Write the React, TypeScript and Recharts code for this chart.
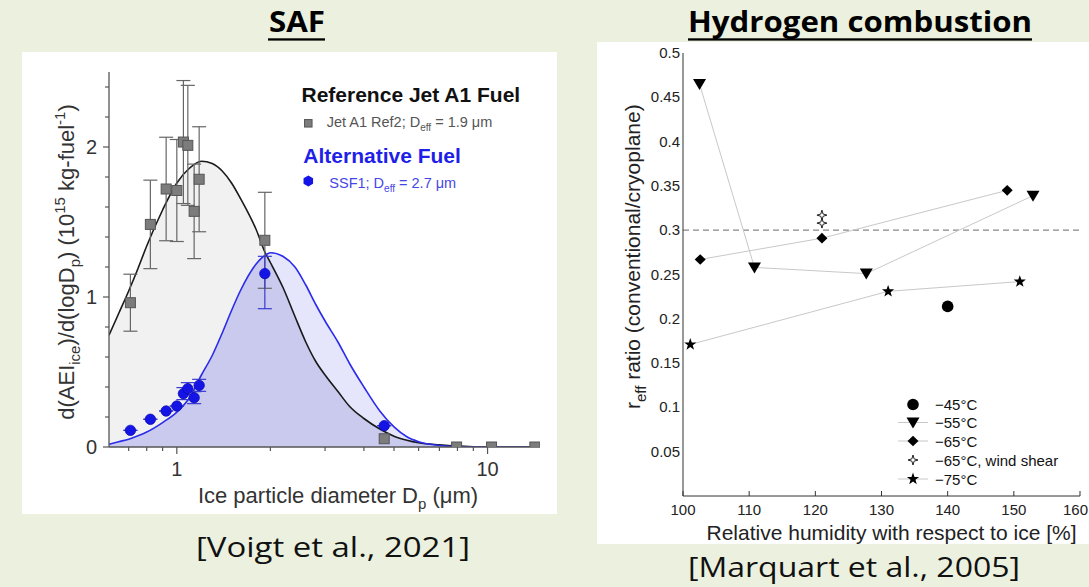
import React from 'react';
import {
  ComposedChart, ScatterChart, Scatter, Area, Line, XAxis, YAxis,
  ErrorBar, ReferenceLine, Label,
} from 'recharts';

// ---------- SAF panel (Voigt et al.) ----------
// fitted size distributions
const fitX = [0.605, 0.65, 0.7, 0.75, 0.8, 0.9, 1.0, 1.1, 1.2, 1.3, 1.4, 1.5, 1.6, 1.8, 1.93, 2.0, 2.2, 2.4, 2.6, 2.8, 3.0, 3.3, 3.6, 4.0, 4.5, 5.0, 5.5, 6.0, 7.0, 8.0, 9.0, 10, 12, 14.75];
const jetFit = [0.745, 0.89, 1.04, 1.19, 1.34, 1.58, 1.76, 1.86, 1.905, 1.89, 1.84, 1.76, 1.66, 1.45, 1.29, 1.23, 1.06, 0.87, 0.7, 0.57, 0.48, 0.37, 0.27, 0.19, 0.12, 0.072, 0.045, 0.028, 0.014, 0.006, 0.002, 0, 0, 0];
const ssfFit = [0.018, 0.035, 0.052, 0.075, 0.1, 0.163, 0.233, 0.33, 0.48, 0.61, 0.76, 0.91, 1.04, 1.22, 1.28, 1.295, 1.27, 1.2, 1.08, 0.95, 0.84, 0.7, 0.555, 0.4, 0.24, 0.134, 0.068, 0.035, 0.01, 0.003, 0.001, 0, 0, 0];

// measured points
const jetX = [0.709, 0.822, 0.924, 1.0, 1.05, 1.085, 1.137, 1.18, 1.92, 4.65, 7.95, 10.3, 14.2];
const jetVal = [0.962, 1.484, 1.72, 1.71, 2.033, 2.011, 1.571, 1.785, 1.378, 0.055, 0, 0, 0];
const jetErr = [0.19, 0.295, 0.345, 0.34, 0.41, 0.4, 0.315, 0.35, 0.32, 0, 0, 0, 0];
const ssfX = [0.709, 0.822, 0.924, 1.0, 1.05, 1.085, 1.137, 1.18, 1.92, 4.65];
const ssfVal = [0.111, 0.185, 0.24, 0.273, 0.356, 0.389, 0.329, 0.411, 1.156, 0.142];
const ssfErrLow = [0, 0, 0, 0, 0.04, 0.04, 0.04, 0.04, 0.234, 0];
const ssfErrHigh = [0, 0, 0, 0, 0.04, 0.04, 0.04, 0.04, 0.115, 0];

const safXTicks = [0.7, 0.8, 0.9, 1, 2, 3, 4, 5, 6, 7, 8, 9, 10];
const safYTicks = [0, 0.2, 0.4, 0.6, 0.8, 1, 1.2, 1.4, 1.6, 1.8, 2, 2.2, 2.4];

// ---------- Hydrogen panel (Marquart et al.) ----------
const rhi45 = [140.0];
const reff45 = [0.214];
const rhi55 = [102.5, 110.8, 127.7, 152.9];
const reff55 = [0.465, 0.258, 0.251, 0.339];
const rhi65 = [102.6, 121.0, 149.0];
const reff65 = [0.267, 0.291, 0.345];
const rhiShear = [121.0, 121.0];
const reffShear = [0.317, 0.308];
const rhi75 = [101.1, 131.0, 150.9];
const reff75 = [0.171, 0.231, 0.242];

const rhTicks = [100, 110, 120, 130, 140, 150, 160];
const reffTicks = [0, 0.05, 0.1, 0.15, 0.2, 0.25, 0.3, 0.35, 0.4, 0.45, 0.5];

const fitRows = fitX.map((x, i) => ({ x, jet: jetFit[i], ssf: ssfFit[i], both: Math.min(jetFit[i], ssfFit[i]) }));
const jetRows = jetX.map((x, i) => ({ x, y: jetVal[i], err: jetErr[i] }));
const ssfRows = ssfX.map((x, i) => ({ x, y: ssfVal[i], err: [ssfErrLow[i], ssfErrHigh[i]] }));
const pts = (xs: number[], ys: number[]) => xs.map((x, i) => ({ x, y: ys[i] }));

const ARIAL = '"Liberation Sans", Arial, Helvetica, sans-serif';
const CAL = '"Open Sans", "Noto Sans", sans-serif';
const SAF_AX = '#555';
const H_AX = '#333';

// ---------- markers ----------
const GraySq = ({ cx, cy, s = 10 }: any) => (
  <rect x={cx - s / 2} y={cy - s / 2} width={s} height={s} fill="#7c7c7c" stroke="#555" strokeWidth={1} />
);
const BlueDot = ({ cx, cy }: any) => <circle cx={cx} cy={cy} r={5.2} fill="#1414e6" stroke="#0b0bb0" strokeWidth={0.8} />;
const BlueHex = ({ cx, cy, r = 5.5 }: any) => {
  const p = [0, 1, 2, 3, 4, 5].map((k) => {
    const a = (Math.PI / 3) * k + Math.PI / 6;
    return `${cx + r * Math.cos(a)},${cy + r * Math.sin(a)}`;
  });
  return <polygon points={p.join(' ')} fill="#1414e6" />;
};

const Disc = ({ cx, cy }: any) => <circle cx={cx} cy={cy} r={5.8} fill="#000" />;
const TriDown = ({ cx, cy }: any) => (
  <polygon points={`${cx - 6.5},${cy - 5} ${cx + 6.5},${cy - 5} ${cx},${cy + 6}`} fill="#000" />
);
const Diamond = ({ cx, cy }: any) => (
  <polygon points={`${cx},${cy - 5.3} ${cx + 5.5},${cy} ${cx},${cy + 5.3} ${cx - 5.5},${cy}`} fill="#000" />
);
const starPts = (cx: number, cy: number, n: number, ro: number, ri: number) => {
  const out: string[] = [];
  for (let k = 0; k < n * 2; k++) {
    const r = k % 2 === 0 ? ro : ri;
    const a = -Math.PI / 2 + (Math.PI / n) * k;
    out.push(`${cx + r * Math.cos(a)},${cy + r * Math.sin(a)}`);
  }
  return out.join(' ');
};
const Sparkle = ({ cx, cy }: any) => (
  <polygon points={starPts(cx, cy, 4, 5, 1.6)} fill="#fff" stroke="#222" strokeWidth={1} />
);
const Star = ({ cx, cy }: any) => <polygon points={starPts(cx, cy, 5, 6.4, 2.6)} fill="#000" />;

// ---------- ticks (tickSize/tickMargin 0 -> x,y sit on the axis line) ----------
const SafXTick = ({ x, y, payload }: any) => {
  const v = payload.value;
  const major = v === 1 || v === 10;
  return (
    <g>
      <line x1={x} x2={x} y1={y} y2={y + (major ? 7 : 4)} stroke={SAF_AX} strokeWidth={1.2} />
      {major && (
        <text x={x} y={y + 29} textAnchor="middle" fontSize={20} fill="#333" fontFamily={ARIAL}>{v}</text>
      )}
    </g>
  );
};
const SafXTopTick = ({ x, y, payload }: any) => {
  const major = payload.value === 1 || payload.value === 10;
  return <line x1={x} x2={x} y1={y} y2={y - (major ? 7 : 4)} stroke={SAF_AX} strokeWidth={1.2} />;
};
const SafYTick = ({ x, y, payload }: any) => {
  const v = payload.value;
  const major = Number.isInteger(v);
  return (
    <g>
      <line x1={x - (major ? 6 : 4)} x2={x} y1={y} y2={y} stroke={SAF_AX} strokeWidth={1.2} />
      {major && (
        <text x={x - 12} y={y + 7} textAnchor="end" fontSize={20} fill="#333" fontFamily={ARIAL}>{v}</text>
      )}
    </g>
  );
};
const SafYRightTick = ({ x, y, payload }: any) => {
  const major = Number.isInteger(payload.value);
  return <line x1={x - (major ? 6 : 4)} x2={x} y1={y} y2={y} stroke={SAF_AX} strokeWidth={1.2} />;
};

const RhXTick = ({ x, y, payload }: any) => {
  const last = payload.value === rhTicks[rhTicks.length - 1];
  return (
    <g>
      <line x1={x} x2={x} y1={y} y2={y - 5} stroke={H_AX} />
      {/* the last label sits on the picture's right edge: keep it inside */}
      <text x={last ? x + 8 : x} y={y + 19} textAnchor={last ? 'end' : 'middle'} fontSize={15} fill="#222" fontFamily={ARIAL}>
        {payload.value}
      </text>
    </g>
  );
};
const RhXTopTick = ({ x, y }: any) => <line x1={x} x2={x} y1={y} y2={y + 5} stroke={H_AX} />;
const RhYTick = ({ x, y, payload }: any) =>
  payload.value === 0 ? <g /> : (
    <text x={x - 3} y={y + 5} textAnchor="end" fontSize={15} fill="#222" fontFamily={ARIAL}>{payload.value}</text>
  );
const RhYRightTick = ({ x, y }: any) => <line x1={x - 5} x2={x} y1={y} y2={y} stroke={H_AX} />;

function SafChart() {
  return (
    <ComposedChart width={535} height={462} data={fitRows} margin={{ top: 20, right: 17, bottom: 0, left: 0 }}>
      <XAxis dataKey="x" type="number" scale="log" domain={[0.605, 14.75]} allowDataOverflow ticks={safXTicks}
        interval={0} height={67} tickSize={0} tickMargin={0} tickLine={false}
        axisLine={{ stroke: SAF_AX, strokeWidth: 1.3 }} tick={<SafXTick />}>
        <Label content={() => (
          <text x={316} y={451} textAnchor="middle" fontSize={22} fill="#333" fontFamily={ARIAL}>
            Ice particle diameter D<tspan dy={6} fontSize={15}>p</tspan><tspan dy={-6}> (μm)</tspan>
          </text>
        )} />
      </XAxis>
      <XAxis xAxisId="top" orientation="top" type="number" scale="log" domain={[0.605, 14.75]} allowDataOverflow
        ticks={safXTicks} interval={0} height={0} tickSize={0} tickMargin={0} tickLine={false}
        axisLine={{ stroke: SAF_AX, strokeWidth: 1.3 }} tick={<SafXTopTick />} />
      <YAxis type="number" domain={[0, 2.5]} allowDataOverflow ticks={safYTicks} interval={0} width={87}
        tickSize={0} tickMargin={0} tickLine={false} axisLine={{ stroke: SAF_AX, strokeWidth: 1.3 }} tick={<SafYTick />}>
        <Label content={() => (
          <text x={52} y={210} transform="rotate(-90 52 210)" textAnchor="middle" fontSize={22} fill="#333" fontFamily={ARIAL}>
            d(AEI<tspan dy={6} fontSize={15}>ice</tspan><tspan dy={-6}>)/d(logD</tspan><tspan dy={6} fontSize={15}>p</tspan>
            <tspan dy={-6}>) (10</tspan><tspan dy={-9} fontSize={15}>15</tspan><tspan dy={9}> kg-fuel</tspan>
            <tspan dy={-9} fontSize={15}>-1</tspan><tspan dy={9}>)</tspan>
          </text>
        )} />
      </YAxis>
      <YAxis yAxisId="right" orientation="right" type="number" domain={[0, 2.5]} allowDataOverflow ticks={safYTicks}
        interval={0} width={0} tickSize={0} tickMargin={0} tickLine={false}
        axisLine={{ stroke: SAF_AX, strokeWidth: 1.3 }} tick={<SafYRightTick />} />

      <Area dataKey="jet" type="monotone" stroke="none" fill="#f1f1f1" fillOpacity={1} isAnimationActive={false} />
      <Area dataKey="ssf" type="monotone" stroke="none" fill="#e5e6fb" fillOpacity={1} isAnimationActive={false} />
      <Area dataKey="both" type="monotone" stroke="none" fill="#c9caee" fillOpacity={1} isAnimationActive={false} />
      <Line dataKey="jet" type="monotone" stroke="#1a1a1a" strokeWidth={1.6} dot={false} isAnimationActive={false} />
      <Line dataKey="ssf" type="monotone" stroke="#2b2bea" strokeWidth={1.6} dot={false} isAnimationActive={false} />

      <Scatter data={jetRows} dataKey="y" isAnimationActive={false} shape={(p: any) => <GraySq cx={p.cx} cy={p.cy} />}>
        <ErrorBar dataKey="err" direction="y" width={7} stroke="#666" strokeWidth={1.2} />
      </Scatter>
      <Scatter data={ssfRows} dataKey="y" isAnimationActive={false} shape={(p: any) => <BlueDot cx={p.cx} cy={p.cy} />}>
        <ErrorBar dataKey="err" direction="y" width={7} stroke="#3a3ad0" strokeWidth={1.2} />
      </Scatter>
    </ComposedChart>
  );
}

function H2Chart() {
  const line = { stroke: '#c8c8c8', strokeWidth: 1 };
  return (
    <ScatterChart width={492} height={502} margin={{ top: 11, right: 9, bottom: 0, left: 0 }}>
      <XAxis dataKey="x" type="number" domain={[100, 160]} allowDataOverflow ticks={rhTicks} interval={0} height={48}
        tickSize={0} tickMargin={0} tickLine={false} axisLine={{ stroke: H_AX }} tick={<RhXTick />}>
        <Label content={() => (
          <text x={294.5} y={498} textAnchor="middle" fontSize={21} fill="#222" fontFamily={ARIAL}>
            Relative humidity with respect to ice [%]
          </text>
        )} />
      </XAxis>
      <XAxis xAxisId="top" orientation="top" type="number" domain={[100, 160]} allowDataOverflow ticks={rhTicks}
        interval={0} height={0} tickSize={0} tickMargin={0} tickLine={false} axisLine={{ stroke: H_AX }} tick={<RhXTopTick />} />
      <YAxis dataKey="y" type="number" domain={[0, 0.5]} allowDataOverflow ticks={reffTicks} interval={0} width={86}
        tickSize={0} tickMargin={0} tickLine={false} axisLine={{ stroke: H_AX }} tick={<RhYTick />}>
        <Label content={() => (
          <text x={43} y={214.7} transform="rotate(-90 43 214.7)" textAnchor="middle" fontSize={21} fill="#222" fontFamily={ARIAL}>
            r<tspan dy={6} fontSize={15}>eff</tspan><tspan dy={-6}> ratio (conventional/cryoplane)</tspan>
          </text>
        )} />
      </YAxis>
      <YAxis yAxisId="right" orientation="right" type="number" domain={[0, 0.5]} allowDataOverflow ticks={reffTicks}
        interval={0} width={0} tickSize={0} tickMargin={0} tickLine={false} axisLine={{ stroke: H_AX }} tick={<RhYRightTick />} />

      <ReferenceLine y={0.3} stroke="#888" strokeWidth={1.2} strokeDasharray="6 4" />

      <Scatter data={pts(rhi55, reff55)} line={line} lineType="joint" isAnimationActive={false}
        shape={(p: any) => <TriDown cx={p.cx} cy={p.cy} />} />
      <Scatter data={pts(rhi65, reff65)} line={line} lineType="joint" isAnimationActive={false}
        shape={(p: any) => <Diamond cx={p.cx} cy={p.cy} />} />
      <Scatter data={pts(rhi75, reff75)} line={line} lineType="joint" isAnimationActive={false}
        shape={(p: any) => <Star cx={p.cx} cy={p.cy} />} />
      <Scatter data={pts(rhiShear, reffShear)} isAnimationActive={false}
        shape={(p: any) => <Sparkle cx={p.cx} cy={p.cy} />} />
      <Scatter data={pts(rhi45, reff45)} isAnimationActive={false}
        shape={(p: any) => <Disc cx={p.cx} cy={p.cy} />} />
    </ScatterChart>
  );
}

const legendRows = [
  { label: '−45°C', M: Disc, line: false },
  { label: '−55°C', M: TriDown, line: true },
  { label: '−65°C', M: Diamond, line: true },
  { label: '−65°C, wind shear', M: Sparkle, line: false },
  { label: '−75°C', M: Star, line: true },
];
const legendY = [404.5, 422.5, 441, 460, 479];

export default function App() {
  return (
    <div style={{ position: 'fixed', left: 0, top: 0, width: 1089, height: 587, background: '#EBF1DE', overflow: 'hidden' }}>
      <div style={{ position: 'absolute', left: 22, top: 52, width: 535, height: 462, background: '#fff' }}>
        <SafChart />
      </div>
      <div style={{ position: 'absolute', left: 597, top: 42, width: 492, height: 502, background: '#fff' }}>
        <H2Chart />
      </div>

      <svg width={1089} height={587} style={{ position: 'absolute', left: 0, top: 0, pointerEvents: 'none' }}>
        {/* titles */}
        <text x={269} y={32} textLength={56} lengthAdjust="spacingAndGlyphs" fontSize={28} fontWeight="bold" fontFamily={CAL} fill="#000">SAF</text>
        <rect x={268} y={38.3} width={57} height={2.3} fill="#000" />
        <text x={688} y={32} textLength={344} lengthAdjust="spacingAndGlyphs" fontSize={28} fontWeight="bold" fontFamily={CAL} fill="#000">Hydrogen combustion</text>
        <rect x={688} y={38.3} width={344} height={2.3} fill="#000" />

        {/* citations */}
        <text x={196} y={557} textLength={274} lengthAdjust="spacingAndGlyphs" fontSize={28} fontFamily={CAL} fill="#111">[Voigt et al., 2021]</text>
        <text x={688} y={577} textLength={332} lengthAdjust="spacingAndGlyphs" fontSize={28} fontFamily={CAL} fill="#111">[Marquart et al., 2005]</text>

        {/* SAF legend */}
        <text x={301.5} y={101.7} fontSize={21} fontWeight="bold" fontFamily={ARIAL} fill="#111">Reference Jet A1 Fuel</text>
        <GraySq cx={308.3} cy={123.3} s={7.5} />
        <text x={326.7} y={127.3} fontSize={14.5} fontFamily={ARIAL} fill="#555">
          Jet A1 Ref2; D<tspan dy={4} fontSize={10}>eff</tspan><tspan dy={-4}> = 1.9 μm</tspan>
        </text>
        <text x={303.3} y={162.7} fontSize={21} fontWeight="bold" fontFamily={ARIAL} fill="#1f1fe8">Alternative Fuel</text>
        <BlueHex cx={308.3} cy={181} />
        <text x={329.3} y={188.3} fontSize={14.5} fontFamily={ARIAL} fill="#4646e6">
          SSF1; D<tspan dy={4} fontSize={10}>eff</tspan><tspan dy={-4}> = 2.7 μm</tspan>
        </text>

        {/* hydrogen legend */}
        {legendRows.map((r, i) => (
          <g key={r.label}>
            {r.line && <line x1={898} x2={928} y1={legendY[i]} y2={legendY[i]} stroke="#c8c8c8" />}
            <r.M cx={913} cy={legendY[i]} />
            <text x={935} y={legendY[i] + 5.5} fontSize={15} fontFamily={ARIAL} fill="#111">{r.label}</text>
          </g>
        ))}
      </svg>
    </div>
  );
}
